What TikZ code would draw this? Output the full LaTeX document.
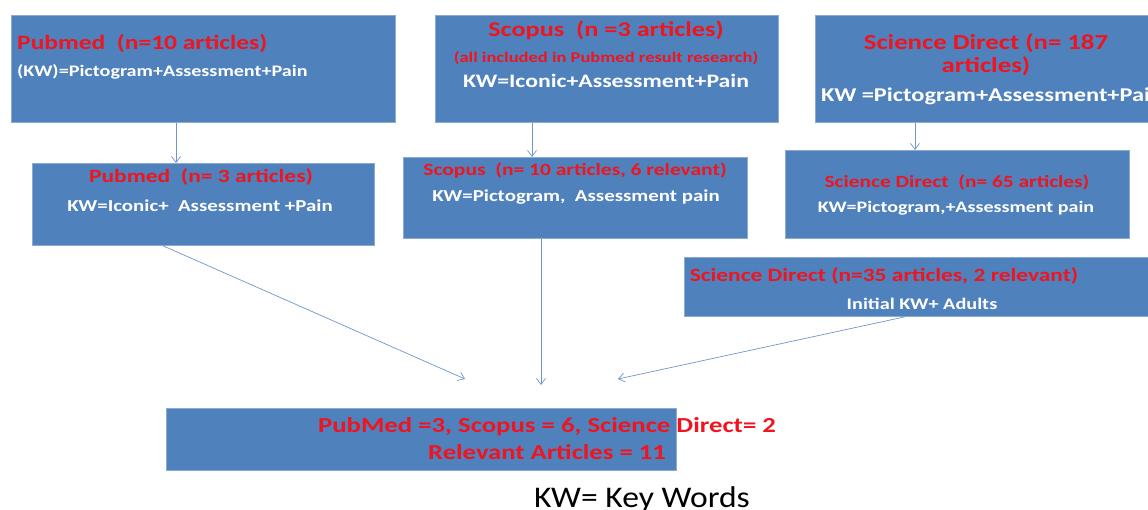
\documentclass[tikz,border=0pt]{standalone}
\usepackage{fontspec}
\usepackage{graphicx}
\setmainfont{Carlito}
\usetikzlibrary{arrows.meta}
\newcommand\hstretch[1]{\scalebox{1.25}[1]{#1}}
\definecolor{boxblue}{RGB}{79,129,189}
\definecolor{edgeblue}{RGB}{140,170,210}
\definecolor{arrblue}{RGB}{110,150,200}
\definecolor{redtxt}{RGB}{240,20,30}
\tikzset{
  box/.style={draw=edgeblue, line width=0.8pt, fill=boxblue, inner sep=0pt},
  redtxtst/.style={text=redtxt, inner sep=0pt},
  whitest/.style={text=white, inner sep=0pt},
  conn/.style={draw=arrblue, line width=0.7pt, -{Straight Barb[length=6pt,width=9pt]}}
}
\newcommand\fsz[1]{\bfseries\fontsize{#1}{#1}\selectfont}
\begin{document}
\begin{tikzpicture}[x=1pt,y=-1pt]
\useasboundingbox (0,0) rectangle (1148,510);
% boxes
\node[box, minimum width=384pt, minimum height=107pt, anchor=north west] (b1) at (11,15) {};
\node[box, minimum width=343pt, minimum height=107pt, anchor=north west] (b2) at (435,15) {};
\node[box, minimum width=340pt, minimum height=107pt, anchor=north west] (b3) at (815,15) {};
\node[box, minimum width=342pt, minimum height=82pt, anchor=north west] (b4) at (32,163) {};
\node[box, minimum width=344pt, minimum height=81pt, anchor=north west] (b5) at (403,157) {};
\node[box, minimum width=344pt, minimum height=88pt, anchor=north west] (b6) at (785,150) {};
\node[box, minimum width=470pt, minimum height=59pt, anchor=north west] (b7) at (684,257) {};
\node[box, minimum width=510pt, minimum height=62pt, anchor=north west] (b8) at (166,408) {};
% texts
\node[redtxtst, font=\fsz{20.4}, anchor=west] (t1a) at (17,43) {\hstretch{Pubmed\ \ (n=10 articles)}};
\node[whitest, font=\fsz{16.1}, anchor=west] (t1b) at (17,72) {\hstretch{(KW)=Pictogram+Assessment+Pain}};
\node[redtxtst, font=\fsz{21}] (t2a) at (606,30) {\hstretch{Scopus\ \ (n =3 articles)}};
\node[redtxtst, font=\fsz{14.8}] (t2b) at (606,58) {\hstretch{(all included in Pubmed result research)}};
\node[whitest, font=\fsz{19}] (t2c) at (606,81) {\hstretch{KW=Iconic+Assessment+Pain}};
\node[redtxtst, font=\fsz{21.4}] (t3a) at (986,43) {\hstretch{Science Direct (n= 187}};
\node[redtxtst, font=\fsz{21.4}] (t3b) at (986,66) {\hstretch{articles)}};
\node[whitest, font=\fsz{19.5}, anchor=west] (t3c) at (821,96) {\hstretch{KW =Pictogram+Assessment+Pain}};
\node[redtxtst, font=\fsz{18.8}] (t4a) at (201,177) {\hstretch{Pubmed\ \ (n= 3 articles)}};
\node[whitest, font=\fsz{16.7}] (t4b) at (200,206) {\hstretch{KW=Iconic+\ \ Assessment +Pain}};
\node[redtxtst, font=\fsz{17.2}] (t5a) at (575,170) {\hstretch{Scopus\ \ (n= 10 articles, 6 relevant)}};
\node[whitest, font=\fsz{16.7}] (t5b) at (576,197) {\hstretch{KW=Pictogram,\ \ Assessment pain}};
\node[redtxtst, font=\fsz{17.1}] (t6a) at (957,182) {\hstretch{Science\ Direct\ \ (n= 65 articles)}};
\node[whitest, font=\fsz{16}] (t6b) at (956,208) {\hstretch{KW=Pictogram,+Assessment pain}};
\node[redtxtst, font=\fsz{18.75}] (t7a) at (884,276) {\hstretch{Science Direct (n=35 articles, 2 relevant)}};
\node[whitest, font=\fsz{16.2}] (t7b) at (922,304) {\hstretch{Initial KW+ Adults}};
\node[redtxtst, font=\fsz{21.4}] (t8a) at (547,427) {\hstretch{PubMed\ =3, Scopus = 6, Science Direct= 2}};
\node[redtxtst, font=\fsz{21.3}] (t8b) at (547,452) {\hstretch{Relevant Articles = 11}};
\node[font=\fontsize{30}{30}\selectfont, text=black, inner sep=0pt, anchor=base] (kw) at (642,507) {\scalebox{1.12}[1]{KW= Key Words}};
% connectors
\coordinate (e4) at (465,379);
\coordinate (e5) at (541,385);
\coordinate (e7) at (618,379);
\draw[conn] (b1.south -| 176,0) -- (b4.north -| 176,0);
\draw[conn] (b2.south -| 532,0) -- (b5.north -| 532,0);
\draw[conn] (b3.south -| 915,0) -- (b6.north -| 915,0);
\draw[conn] (b4.south -| 163,0) -- (e4);
\draw[conn] (b5.south -| 541,0) -- (e5);
\draw[conn] (b7.south -| 905,0) -- (e7);
\end{tikzpicture}
\end{document}
